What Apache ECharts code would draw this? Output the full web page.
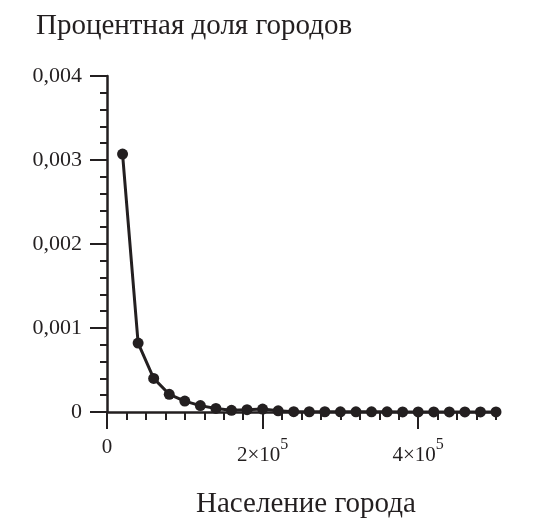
<!DOCTYPE html>
<html>
<head>
<meta charset="utf-8">
<script src="https://cdn.jsdelivr.net/npm/echarts@6/dist/echarts.min.js"></script>
<style>
    html, body {margin: 0; padding: 0; background: #fff;}
    #chart {width: 544px; height: 531px;}
</style>
</head>
<body>
<div id="chart"></div>
<script>
// население города (точки каждые 20000)
var population = [20000, 40000, 60000, 80000, 100000, 120000, 140000, 160000, 180000, 200000,
    220000, 240000, 260000, 280000, 300000, 320000, 340000, 360000, 380000, 400000,
    420000, 440000, 460000, 480000, 500000];
// процентная доля городов
var share = [0.00307, 0.00082, 0.00040, 0.000211, 0.00013, 0.000076, 0.000042, 0.00002, 0.000028, 0.000035,
    0.000014, 0.000004, 0.000003, 0.000003, 0.000002, 0.000002, 0.000002, 0.000002, 0.000001, 0.000001,
    0.000001, 0.000001, 0.000001, 0.000001, 0.000001];
var xMajorTicks = [0, 200000, 400000];
var xLabels = {0: '{z|0}', 200000: '{a|2×10}{b|5}', 400000: '{a|4×10}{b|5}'};

var ink = '#231f20';
var serif = '"Liberation Serif", "DejaVu Serif", serif';

var myChart = echarts.init(document.getElementById('chart'));
var option = {
    backgroundColor: '#fff',
    animation: false,
    title: [{
        text: 'Процентная доля городов',
        left: 31,
        top: 7,
        textStyle: {fontFamily: serif, fontSize: 29, fontWeight: 'normal', color: ink}
    }, {
        text: 'Население города',
        left: 191,
        top: 485,
        textStyle: {fontFamily: serif, fontSize: 29, fontWeight: 'normal', color: ink}
    }],
    grid: {left: 107, right: 48, top: 76, bottom: 119, containLabel: false},
    xAxis: [{
        // мелкие деления и подписи
        type: 'value',
        position: 'bottom',
        min: 0,
        max: 500000,
        interval: 25000,
        splitLine: {show: false},
        axisLine: {lineStyle: {color: ink, width: 2.5}},
        axisTick: {inside: false, length: 8, lineStyle: {color: ink, width: 2}},
        axisLabel: {
            margin: 25,
            fontFamily: serif,
            color: ink,
            formatter: function (v) {
                return xLabels[v] || '';
            },
            rich: {
                z: {fontFamily: serif, fontSize: 21, color: ink, lineHeight: 29, verticalAlign: 'top'},
                a: {fontFamily: serif, fontSize: 21, color: ink, lineHeight: 29, verticalAlign: 'bottom'},
                b: {fontFamily: serif, fontSize: 16, color: ink, verticalAlign: 'top'}
            }
        }
    }, {
        // длинные деления
        type: 'value',
        position: 'bottom',
        min: 0,
        max: 500000,
        interval: 25000,
        splitLine: {show: false},
        axisLine: {show: false},
        axisTick: {customValues: xMajorTicks, length: 17, lineStyle: {color: ink, width: 2}},
        axisLabel: {show: false}
    }],
    yAxis: {
        type: 'value',
        min: 0,
        max: 0.004,
        interval: 0.001,
        splitLine: {show: false},
        axisLine: {show: true, lineStyle: {color: ink, width: 2.5}},
        axisTick: {show: true, length: 17, lineStyle: {color: ink, width: 2}},
        minorTick: {show: true, splitNumber: 5, length: 7, lineStyle: {color: ink, width: 2}},
        axisLabel: {
            margin: 25,
            fontFamily: serif,
            fontSize: 22,
            color: ink,
            formatter: function (v) {
                if (v === 0) return '0';
                return v.toFixed(3).replace('.', ',');
            }
        }
    },
    series: [{
        type: 'line',
        xAxisIndex: 0,
        data: population.map(function (p, i) {
            return [p, share[i]];
        }),
        symbol: 'circle',
        symbolSize: 11,
        lineStyle: {color: ink, width: 3},
        itemStyle: {color: ink}
    }]
};
myChart.setOption(option);
</script>
</body>
</html>
